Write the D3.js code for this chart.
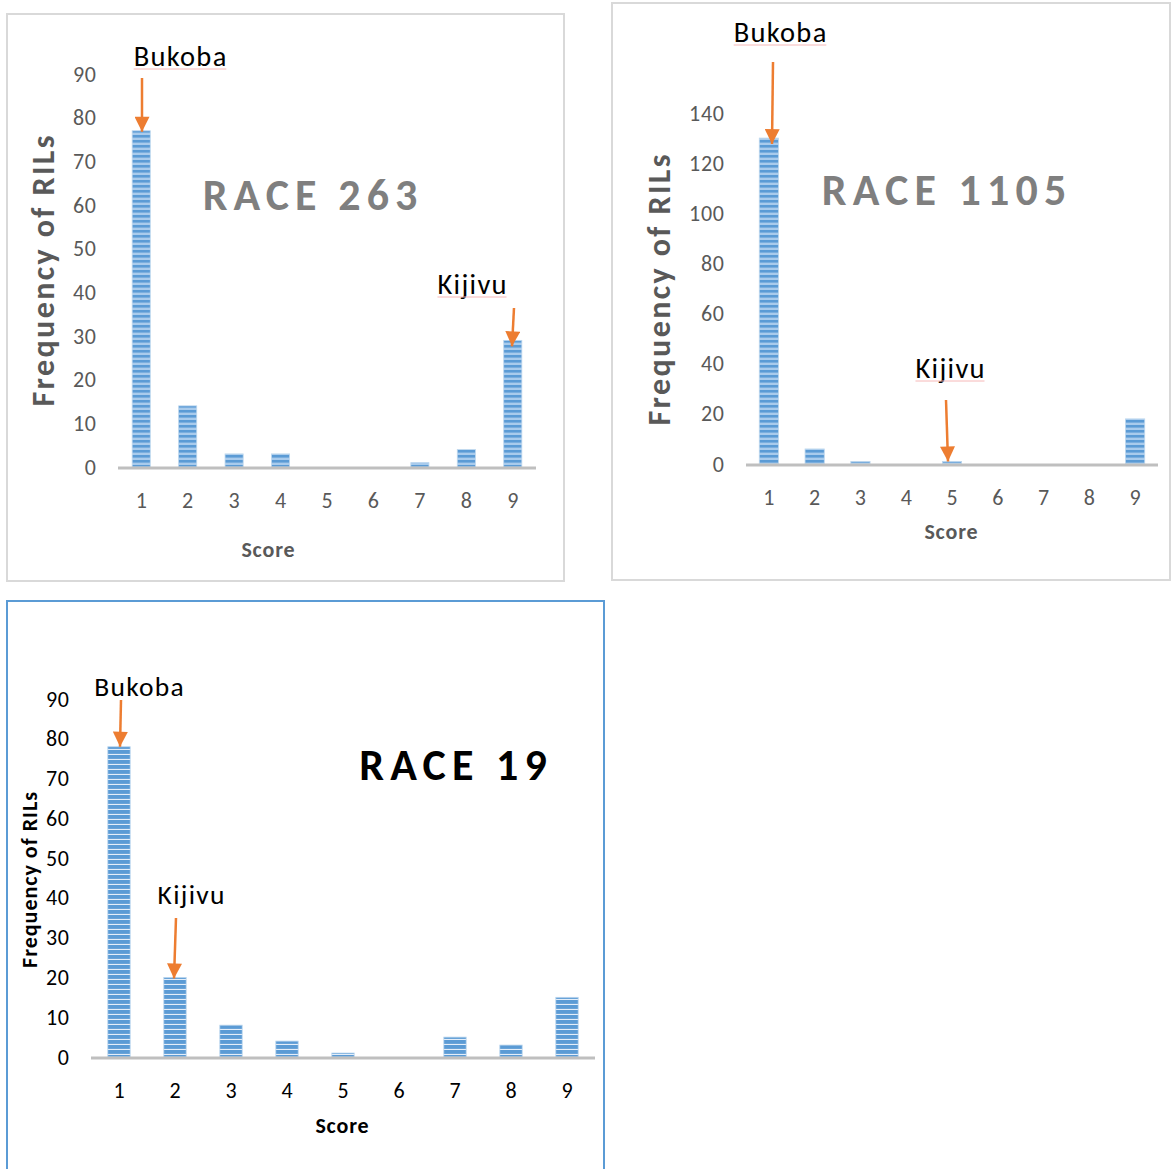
<!DOCTYPE html>
<html>
<head>
<meta charset="utf-8">
<script src="https://cdn.jsdelivr.net/npm/d3@7"></script>
<style>
  html, body { margin: 0; padding: 0; background: #fff; }
  svg { display: block; }
  text { font-family: Carlito, Lato, "Open Sans", sans-serif; }
</style>
</head>
<body>
<script>
// Frequency of RILs by disease score, per race
const scores = [1, 2, 3, 4, 5, 6, 7, 8, 9];
const race263 = [77, 14, 3, 3, 0, 0, 1, 4, 29];
const race1105 = [130, 6, 1, 0, 1, 0, 0, 0, 18];
const race19 = [78, 20, 8, 4, 1, 0, 5, 3, 15];

const ticks263 = [0, 10, 20, 30, 40, 50, 60, 70, 80, 90];
const ticks1105 = [0, 20, 40, 60, 80, 100, 120, 140];
const ticks19 = [0, 10, 20, 30, 40, 50, 60, 70, 80, 90];

const W = 1171, H = 1169;
const svg = d3.select("body").append("svg").attr("width", W).attr("height", H);
const defs = svg.append("defs");

// Striped fills for the bars
function stripePattern(id, period, dark, light, darkH) {
  const p = defs.append("pattern").attr("id", id)
    .attr("patternUnits", "userSpaceOnUse").attr("width", 8).attr("height", period);
  p.append("rect").attr("width", 8).attr("height", period).attr("fill", light);
  p.append("rect").attr("width", 8).attr("height", darkH).attr("fill", dark);
}
stripePattern("stripeLight", 5, "#5b9bd5", "#a9cbec", 2.6);
stripePattern("stripeDark", 5, "#5b9bd5", "#e4eef9", 3.9);

// Arrow head marker
defs.append("marker").attr("id", "arrowHead")
  .attr("viewBox", "0 0 10 10").attr("refX", 10).attr("refY", 5)
  .attr("markerUnits", "userSpaceOnUse").attr("markerWidth", 16).attr("markerHeight", 15)
  .attr("orient", "auto")
  .append("path").attr("d", "M0,0 L10,5 L0,10 Z").attr("fill", "#ed7d31");

const panels = [
  {
    values: race263, ticks: ticks263, domain: [0, 90],
    frame: { x: 7, y: 14, w: 557, h: 567, stroke: "#d9d9d9" },
    left: 118, right: 536, y0: 467, yTop: 74,
    pattern: "stripeLight", barPad: 0.61,
    tickColor: "#595959", tickSize: 22, tickSpacing: 0.8,
    yLabel: { x: 43, y: 271, size: 32, spacing: 2.4, color: "#595959" },
    score: { x: 268, dy: 90, size: 22, color: "#595959" },
    title: { text: "RACE 263", x: 310, y: 210, size: 44, color: "#7f7f7f", spacing: 6 },
    notes: [
      { text: "Bukoba", cat: 1, tx: 180, ty: 66, x1: 142, y1: 78, x2: 142, tipInto: 1, size: 28.5, underline: true },
      { text: "Kijivu", cat: 9, tx: 472, ty: 294, x1: 514, y1: 308, x2: 512, tipInto: 6, size: 28.5, underline: true }
    ]
  },
  {
    values: race1105, ticks: ticks1105, domain: [0, 140],
    frame: { x: 612, y: 3, w: 558, h: 577, stroke: "#d9d9d9" },
    left: 746, right: 1158, y0: 464, yTop: 113,
    pattern: "stripeLight", barPad: 0.58,
    tickColor: "#595959", tickSize: 22, tickSpacing: 0.8,
    yLabel: { x: 659, y: 290, size: 32, spacing: 2.4, color: "#595959" },
    score: { x: 951, dy: 75, size: 22, color: "#595959" },
    title: { text: "RACE 1105", x: 944, y: 205, size: 44, color: "#7f7f7f", spacing: 6.2 },
    notes: [
      { text: "Bukoba", cat: 1, tx: 780, ty: 42, x1: 773, y1: 62, x2: 772, tipInto: 6, size: 28.5, underline: true },
      { text: "Kijivu", cat: 5, tx: 950, ty: 378, x1: 946, y1: 400, x2: 948, tipInto: 0, size: 28.5, underline: true }
    ]
  },
  {
    values: race19, ticks: ticks19, domain: [0, 90],
    frame: { x: 7, y: 601, w: 597, h: 580, stroke: "#5b9bd5" },
    left: 91, right: 595, y0: 1057, yTop: 699,
    pattern: "stripeDark", barPad: 0.6,
    tickColor: "#000", tickSize: 22, tickSpacing: 0.8,
    yLabel: { x: 29, y: 880, size: 22, spacing: 1, color: "#000" },
    score: { x: 342, dy: 76, size: 22, color: "#000" },
    title: { text: "RACE 19", x: 453, y: 780, size: 44, color: "#000", spacing: 6.2 },
    notes: [
      { text: "Bukoba", cat: 1, tx: 139, ty: 696, x1: 121, y1: 700, x2: 120, tipInto: 0, size: 27.5, underline: false },
      { text: "Kijivu", cat: 2, tx: 191, ty: 904, x1: 176, y1: 918, x2: 174, tipInto: 1, size: 27.5, underline: false }
    ]
  }
];

panels.forEach(p => {
  const g = svg.append("g");

  // chart frame
  g.append("rect")
    .attr("x", p.frame.x).attr("y", p.frame.y)
    .attr("width", p.frame.w).attr("height", p.frame.h)
    .attr("fill", "#fff").attr("stroke", p.frame.stroke).attr("stroke-width", 2);

  const x = d3.scaleBand().domain(scores).range([p.left, p.right])
    .paddingInner(p.barPad).paddingOuter(p.barPad / 2);
  const y = d3.scaleLinear().domain(p.domain).range([p.y0, p.yTop]);

  // y axis labels (no line, no ticks)
  const ya = g.append("g").attr("transform", `translate(${p.left - 22},0)`)
    .call(d3.axisLeft(y).tickValues(p.ticks).tickSize(0).tickPadding(0).tickFormat(d3.format("d")));
  ya.select(".domain").remove();
  ya.selectAll("text").attr("fill", p.tickColor).attr("font-size", p.tickSize)
    .attr("letter-spacing", p.tickSpacing).attr("dx", p.tickSpacing)
    .attr("font-family", "Carlito, Lato, sans-serif");

  // bars
  g.append("g").selectAll("rect").data(p.values).join("rect")
    .attr("x", (d, i) => x(scores[i]))
    .attr("width", x.bandwidth())
    .attr("y", d => y(d))
    .attr("height", d => y(0) - y(d))
    .attr("fill", `url(#${p.pattern})`)
    .attr("stroke", "#bdd7ee").attr("stroke-width", 0.8);

  // category axis: baseline + labels
  g.append("line").attr("x1", p.left).attr("x2", p.right)
    .attr("y1", y(0) + 1).attr("y2", y(0) + 1)
    .attr("stroke", "#bfbfbf").attr("stroke-width", 3);
  const xa = g.append("g").attr("transform", `translate(0,${y(0) + 25})`)
    .call(d3.axisBottom(x).tickSize(0).tickPadding(0));
  xa.select(".domain").remove();
  xa.selectAll("text").attr("fill", p.tickColor).attr("font-size", p.tickSize)
    .attr("font-family", "Carlito, Lato, sans-serif");

  // axis titles
  g.append("text").attr("x", p.score.x + 0.4).attr("y", y(0) + p.score.dy)
    .attr("text-anchor", "middle").attr("font-weight", "bold")
    .attr("letter-spacing", 0.8)
    .attr("font-size", p.score.size).attr("fill", p.score.color).text("Score");
  g.append("text")
    .attr("transform", `translate(${p.yLabel.x},${p.yLabel.y - p.yLabel.spacing / 2}) rotate(-90)`)
    .attr("text-anchor", "middle").attr("dominant-baseline", "central")
    .attr("font-weight", "bold").attr("font-size", p.yLabel.size)
    .attr("letter-spacing", p.yLabel.spacing)
    .attr("fill", p.yLabel.color).text("Frequency of RILs");

  // race title
  g.append("text").attr("x", p.title.x + p.title.spacing / 2).attr("y", p.title.y)
    .attr("text-anchor", "middle").attr("font-weight", "bold")
    .attr("font-size", p.title.size).attr("letter-spacing", p.title.spacing)
    .attr("fill", p.title.color).text(p.title.text);

  // parent line annotations
  p.notes.forEach(n => {
    const i = scores.indexOf(n.cat);
    const tipY = y(p.values[i]) + n.tipInto;
    const sp = 1.3;
    const t = g.append("text").attr("x", n.tx + sp / 2).attr("y", n.ty)
      .attr("text-anchor", "middle").attr("font-size", n.size)
      .attr("letter-spacing", sp)
      .attr("fill", "#000").text(n.text);
    if (n.underline) {
      const w = t.node().getComputedTextLength() - sp;
      g.append("line").attr("x1", n.tx - w / 2).attr("x2", n.tx + w / 2)
        .attr("y1", n.ty + 3).attr("y2", n.ty + 3)
        .attr("stroke", "#f6b8b8").attr("stroke-width", 1);
    }
    g.append("line").attr("x1", n.x1).attr("y1", n.y1).attr("x2", n.x2).attr("y2", tipY)
      .attr("stroke", "#ed7d31").attr("stroke-width", 2.5)
      .attr("marker-end", "url(#arrowHead)");
  });
});
</script>
</body>
</html>
